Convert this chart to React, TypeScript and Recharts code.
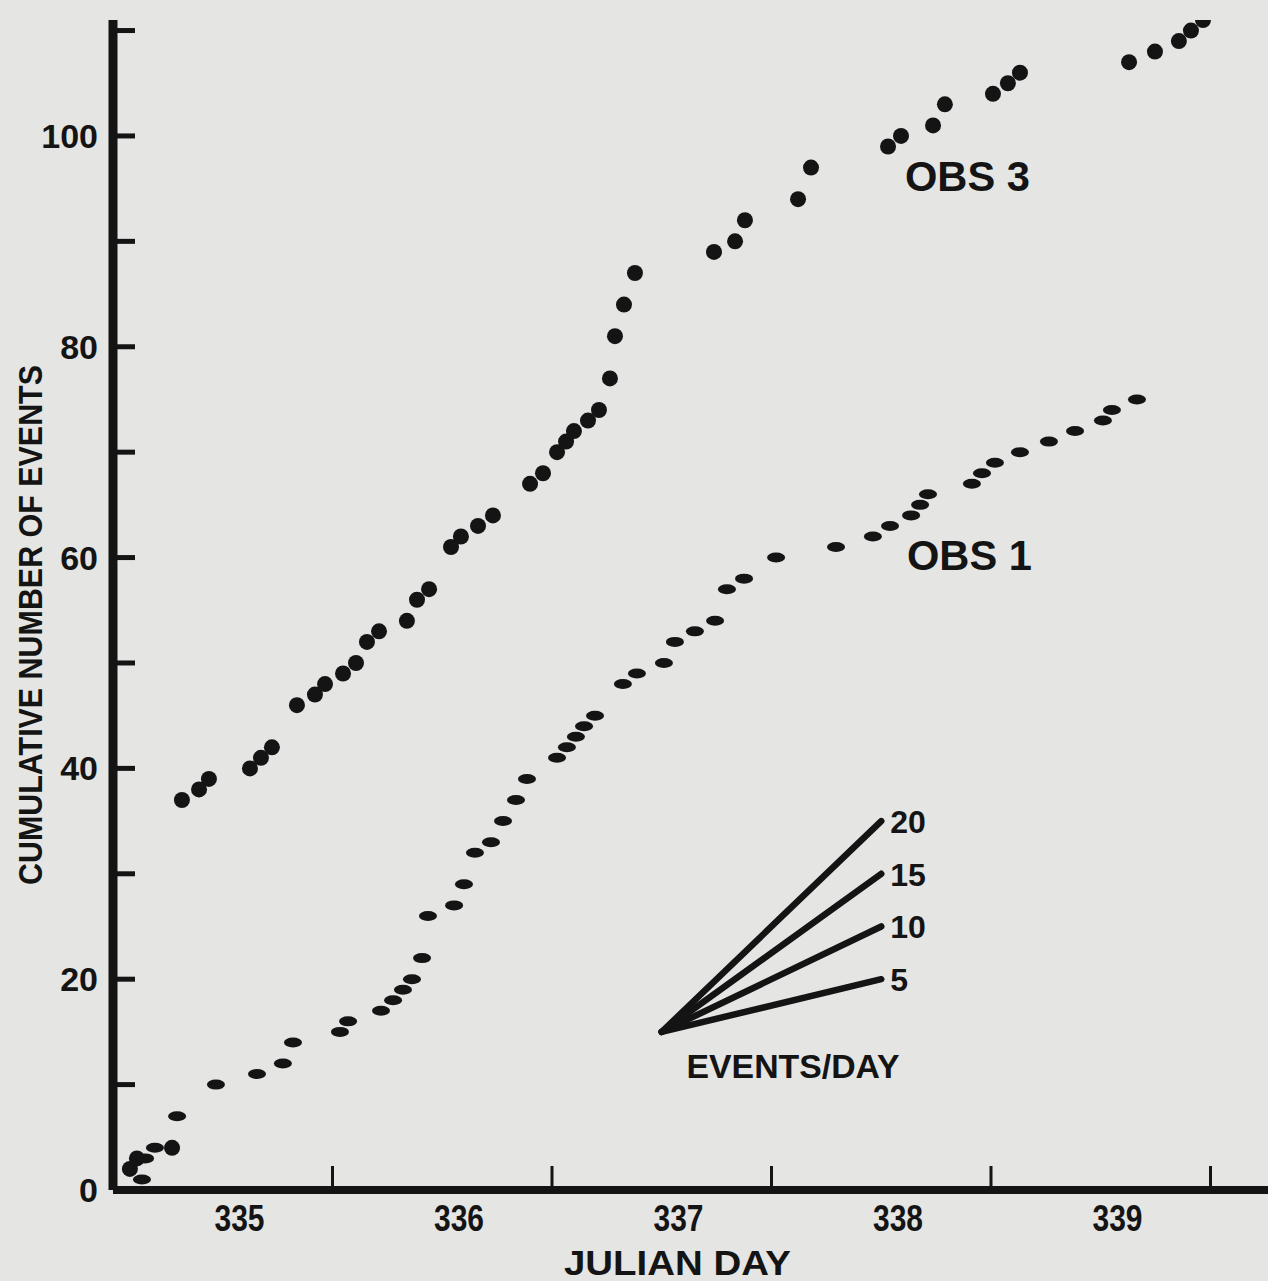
import React from 'react';
import { ComposedChart, Scatter, XAxis, YAxis, ReferenceDot, ReferenceLine } from 'recharts';

const INK = '#141414';
const PAPER = '#e5e5e3';
const FONT = '"Liberation Sans", Arial, sans-serif';

// OBS 3 – fractional julian day and cumulative event count
const obs3Days = [
  335.077, 335.109, 335.269, 335.314, 335.392, 335.437, 335.624, 335.674, 335.724,
  335.838, 335.92, 335.966, 336.048, 336.107, 336.157, 336.212, 336.339, 336.385,
  336.44, 336.54, 336.585, 336.663, 336.731, 336.9, 336.959, 337.023, 337.064,
  337.1, 337.164, 337.214, 337.264, 337.287, 337.328, 337.378, 337.738, 337.834,
  337.879, 338.121, 338.18, 338.531, 338.59, 338.736, 338.79, 339.009, 339.077,
  339.132, 339.629, 339.747, 339.856, 339.911, 339.966,
];
const obs3Counts = [
  2, 3, 4, 37, 38, 39, 40, 41, 42,
  46, 47, 48, 49, 50, 52, 53, 54, 56,
  57, 61, 62, 63, 64, 67, 68, 70, 71,
  72, 73, 74, 77, 81, 84, 87, 89, 90,
  92, 94, 97, 99, 100, 101, 103, 104, 105,
  106, 107, 108, 109, 110, 111,
];

// OBS 1
const obs1Days = [
  335.132, 335.146, 335.191, 335.292, 335.469, 335.656, 335.774, 335.82, 336.034,
  336.071, 336.221, 336.276, 336.321, 336.362, 336.408, 336.435, 336.554, 336.599,
  336.649, 336.722, 336.777, 336.836, 336.886, 337.023, 337.068, 337.109, 337.146,
  337.196, 337.323, 337.387, 337.51, 337.56, 337.651, 337.743, 337.797, 337.875,
  338.021, 338.294, 338.462, 338.54, 338.636, 338.677, 338.713, 338.913, 338.959,
  339.018, 339.132, 339.264, 339.383, 339.51, 339.551, 339.665,
];
const obs1Counts = [
  1, 3, 4, 7, 10, 11, 12, 14, 15,
  16, 17, 18, 19, 20, 22, 26, 27, 29,
  32, 33, 35, 37, 39, 41, 42, 43, 44,
  45, 48, 49, 50, 52, 53, 54, 57, 58,
  60, 61, 62, 63, 64, 65, 66, 67, 68,
  69, 70, 71, 72, 73, 74, 75,
];

const dayTicks = [336, 337, 338, 339, 340];
const countTicks = [0, 10, 20, 30, 40, 50, 60, 70, 80, 90, 100, 110];
const countLabels = [0, 20, 40, 60, 80, 100];

// rate fan: events/day drawn over one day from a common origin
const rateOriginDay = 337.5;
const rateOriginCount = 15;
const rates = [5, 10, 15, 20];

const seriesNotes = [
  { day: 338.608, count: 94.8, text: 'OBS 3' },
  { day: 338.617, count: 58.8, text: 'OBS 1' },
];

const obs3 = obs3Days.map((d, i) => ({ day: d, count: obs3Counts[i] }));
const obs1 = obs1Days.map((d, i) => ({ day: d, count: obs1Counts[i] }));

const Dot = (p: any) => <circle cx={p.cx} cy={p.cy} r={8} fill={INK} />;
const Dash = (p: any) => <ellipse cx={p.cx} cy={p.cy} rx={9} ry={5} fill={INK} />;

const XTick = (props: any) => {
  const { x, y, payload } = props;
  return (
    <g>
      <line x1={x} y1={y} x2={x} y2={y - 24} stroke={INK} strokeWidth={3} />
      <text x={x - 93} y={y + 41} textAnchor="middle" fontFamily={FONT} fontWeight="bold"
        fontSize={36} textLength={50} lengthAdjust="spacingAndGlyphs" fill={INK}>
        {payload.value - 1}
      </text>
    </g>
  );
};

const YTick = (props: any) => {
  const { x, y, payload } = props;
  const v = payload.value;
  return (
    <g>
      <line x1={x} y1={y} x2={x + 22} y2={y} stroke={INK} strokeWidth={5} />
      {countLabels.includes(v) && (
        <text x={x - 15} y={y + 12} textAnchor="end" fontFamily={FONT} fontWeight="bold"
          fontSize={34} fill={INK}>
          {v}
        </text>
      )}
    </g>
  );
};

const YTitle = (props: any) => {
  const { viewBox } = props;
  const cx = viewBox.x + 30;
  const cy = viewBox.y + viewBox.height / 2 + 20;
  return (
    <text x={cx} y={cy} dy={12} transform={`rotate(-90 ${cx} ${cy})`} textAnchor="middle"
      fontFamily={FONT} fontWeight="bold" fontSize={34} textLength={520}
      lengthAdjust="spacingAndGlyphs" fill={INK}>
      CUMULATIVE NUMBER OF EVENTS
    </text>
  );
};

const XTitle = (props: any) => {
  const { viewBox } = props;
  return (
    <text x={viewBox.x + viewBox.width / 2 - 13} y={viewBox.y + 85} textAnchor="middle"
      fontFamily={FONT} fontWeight="bold" fontSize={35} textLength={227}
      lengthAdjust="spacingAndGlyphs" fill={INK}>
      JULIAN DAY
    </text>
  );
};

export default function App() {
  return (
    <div style={{ position: 'absolute', left: 0, top: 0, width: 1268, height: 1281, background: PAPER }}>
      <ComposedChart width={1268} height={1281} margin={{ top: 20, right: 0, bottom: 0, left: 0 }}>
        <XAxis
          type="number"
          dataKey="day"
          domain={[335, 340.262]}
          allowDataOverflow
          ticks={dayTicks}
          interval={0}
          height={91}
          tickSize={0}
          tickMargin={0}
          tick={<XTick />}
          axisLine={{ stroke: INK, strokeWidth: 8 }}
          label={<XTitle />}
        />
        <YAxis
          type="number"
          dataKey="count"
          domain={[0, 111]}
          allowDataOverflow
          ticks={countTicks}
          interval={0}
          width={113}
          tickSize={0}
          tickMargin={0}
          tick={<YTick />}
          axisLine={{ stroke: INK, strokeWidth: 9 }}
          label={<YTitle />}
        />
        <Scatter data={obs3} fill={INK} shape={Dot} isAnimationActive={false} />
        <Scatter data={obs1} fill={INK} shape={Dash} isAnimationActive={false} />
        {rates.map((r) => (
          <ReferenceLine
            key={r}
            segment={[
              { x: rateOriginDay, y: rateOriginCount },
              { x: rateOriginDay + 1, y: rateOriginCount + r },
            ]}
            stroke={INK}
            strokeWidth={6.5}
            strokeLinecap="round"
          />
        ))}
        {rates.map((r) => (
          <ReferenceDot
            key={`l${r}`}
            x={rateOriginDay + 1}
            y={rateOriginCount + r}
            r={0}
            fill="none"
            stroke="none"
            label={(p: any) => (
              <text x={p.viewBox.x + 9} y={p.viewBox.y + 12} fontFamily={FONT} fontWeight="bold"
                fontSize={32} fill={INK}>
                {r}
              </text>
            )}
          />
        ))}
        {seriesNotes.map((n) => (
          <ReferenceDot
            key={n.text}
            x={n.day}
            y={n.count}
            r={0}
            fill="none"
            stroke="none"
            label={(p: any) => (
              <text x={p.viewBox.x} y={p.viewBox.y} fontFamily={FONT} fontWeight="bold"
                fontSize={42} textLength={125} lengthAdjust="spacingAndGlyphs" fill={INK}>
                {n.text}
              </text>
            )}
          />
        ))}
        <ReferenceDot
          x={338.098}
          y={10.6}
          r={0}
          fill="none"
          stroke="none"
          label={(p: any) => (
            <text x={p.viewBox.x} y={p.viewBox.y} textAnchor="middle" fontFamily={FONT}
              fontWeight="bold" fontSize={34} textLength={213} lengthAdjust="spacingAndGlyphs" fill={INK}>
              EVENTS/DAY
            </text>
          )}
        />
      </ComposedChart>
    </div>
  );
}
